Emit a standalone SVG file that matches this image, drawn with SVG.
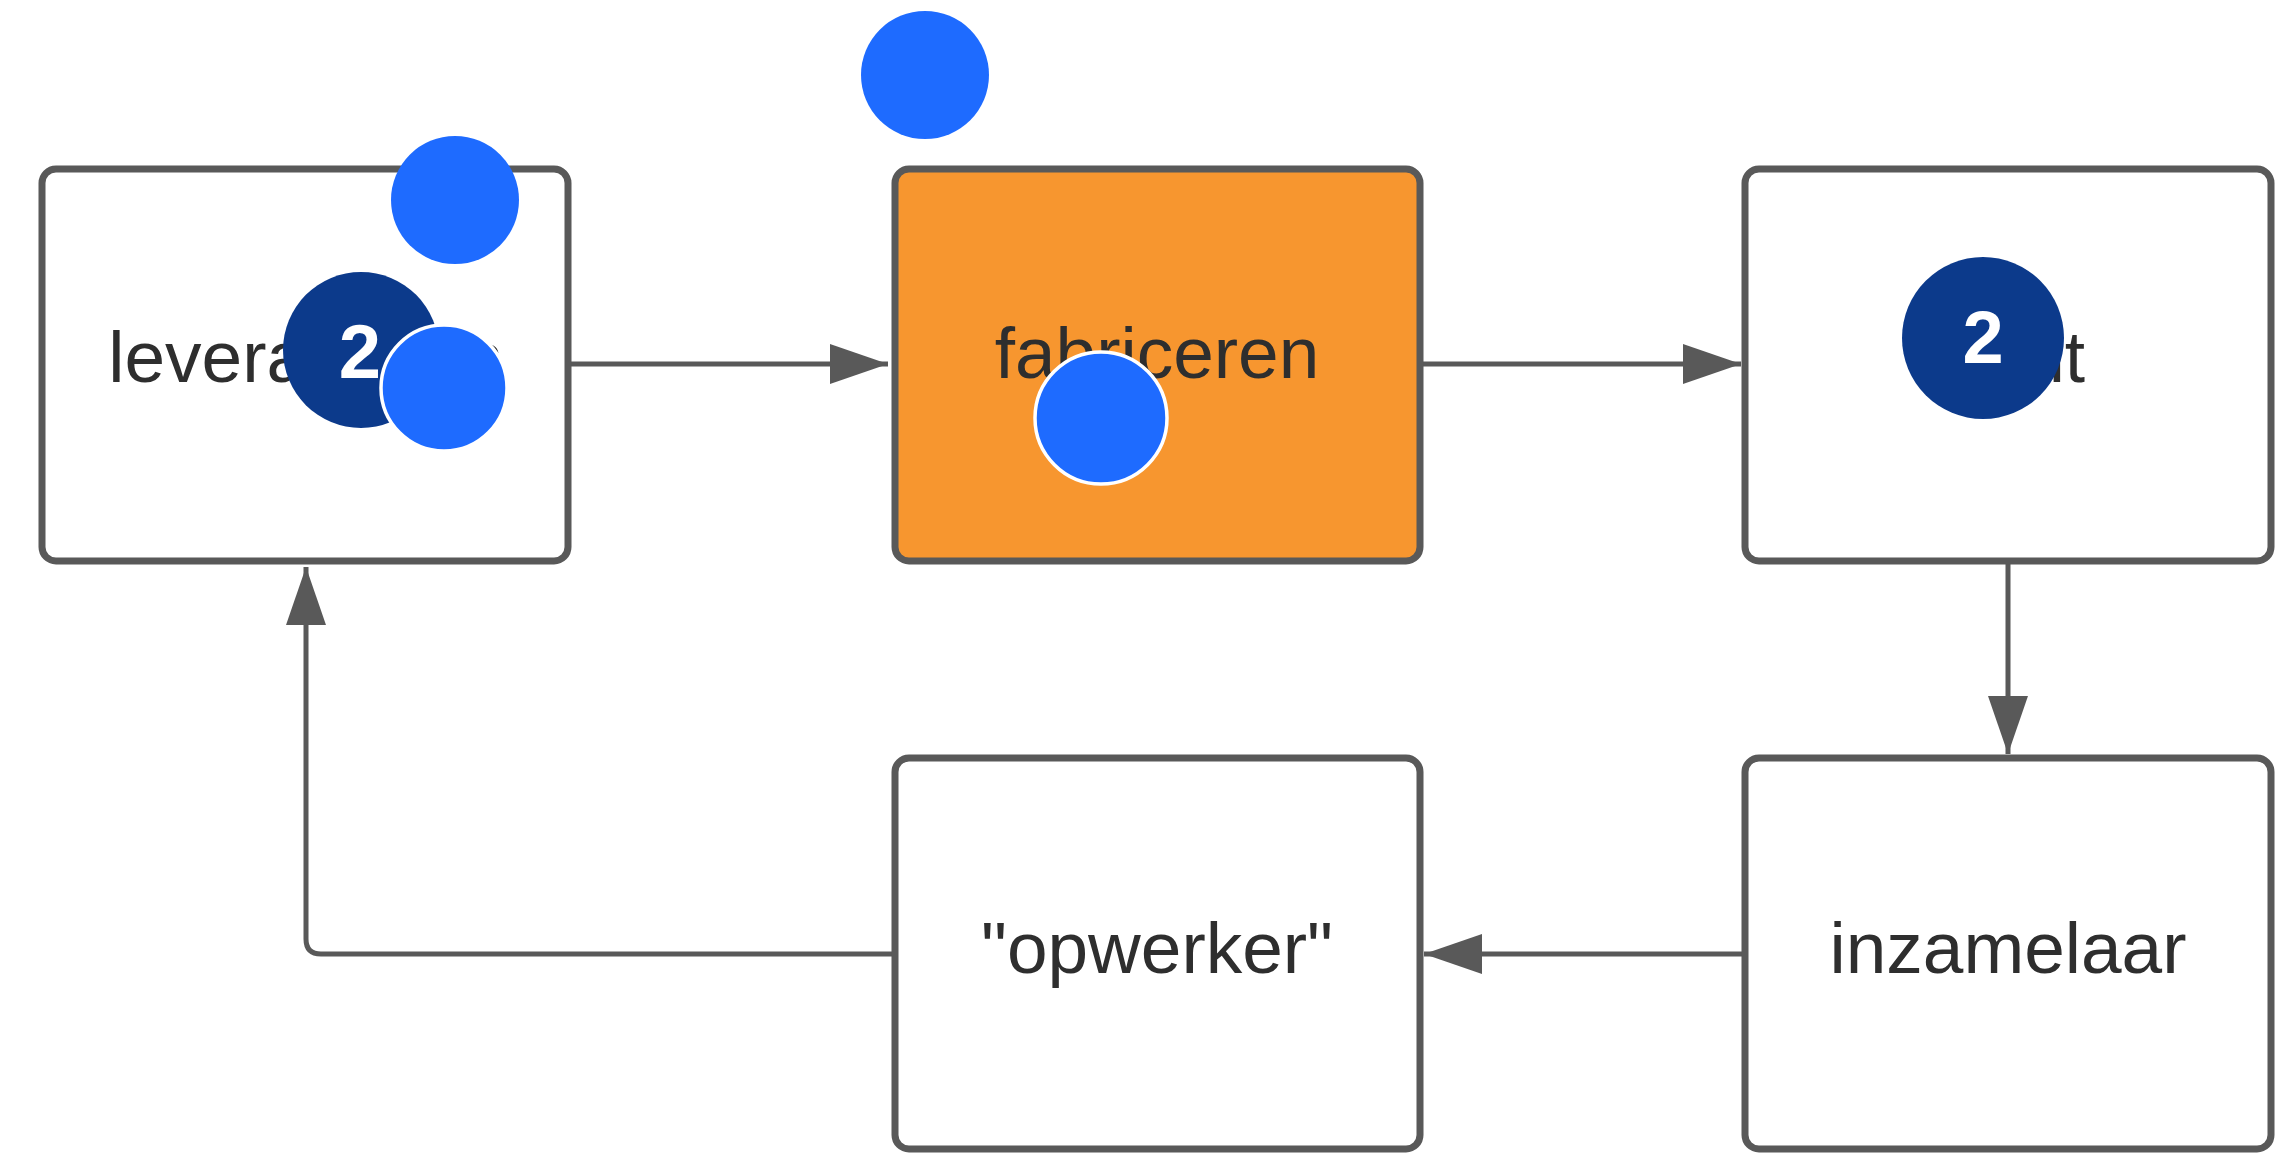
<svg xmlns="http://www.w3.org/2000/svg" width="2295" height="1153" viewBox="0 0 2295 1153">
  <style>
    .box { fill: #ffffff; stroke: #595959; stroke-width: 7; }
    .box.active { fill: #f7962f; }
    .label { font-family: "Liberation Sans", Arial, sans-serif; font-size: 73px; fill: #2e2e2e; text-anchor: middle; }
    .edge { fill: none; stroke: #595959; stroke-width: 5; }
    .dot { fill: #1e6bff; }
    .dot.ring { stroke: #ffffff; stroke-width: 3.5; }
    .badge { fill: #0c3a8b; }
    .badge-num { font-family: "Liberation Sans", Arial, sans-serif; font-weight: bold; fill: #ffffff; text-anchor: middle; }
  </style>
  <defs>
    <marker id="arrow" viewBox="0 0 58 40" refX="58" refY="20" markerWidth="58" markerHeight="40" orient="auto" markerUnits="userSpaceOnUse">
      <path d="M0,0 L58,20 L0,40 Z" fill="#595959"/>
    </marker>
  </defs>

  <rect width="2295" height="1153" fill="#ffffff"/>

  <!-- connectors -->
  <g id="connectors">
    <path class="edge" d="M568,364 L888,364" marker-end="url(#arrow)"/>
    <path class="edge" d="M1420,364 L1741,364" marker-end="url(#arrow)"/>
    <path class="edge" d="M2008,561 L2008,754" marker-end="url(#arrow)"/>
    <path class="edge" d="M1745,954 L1424,954" marker-end="url(#arrow)"/>
    <path class="edge" d="M894,954 L321,954 Q306,954 306,939 L306,567" marker-end="url(#arrow)"/>
  </g>

  <!-- nodes -->
  <g id="node-leveranciers">
    <rect class="box" x="42" y="169" width="526" height="392" rx="14"/>
    <text class="label" x="305" y="382">leveranciers</text>
  </g>
  <g id="node-fabriceren">
    <rect class="box active" x="895" y="169" width="525" height="392" rx="14"/>
    <text class="label" x="1157" y="378">fabriceren</text>
  </g>
  <g id="node-klant">
    <rect class="box" x="1745" y="169" width="526" height="392" rx="14"/>
    <text class="label" x="2008" y="382">klant</text>
  </g>
  <g id="node-opwerker">
    <rect class="box" x="895" y="758" width="525" height="391" rx="14"/>
    <text class="label" x="1157" y="973">"opwerker"</text>
  </g>
  <g id="node-inzamelaar">
    <rect class="box" x="1745" y="758" width="526" height="391" rx="14"/>
    <text class="label" x="2008" y="973">inzamelaar</text>
  </g>

  <!-- markers placed over the chart -->
  <g id="markers">
    <circle class="dot" cx="925" cy="75" r="64"/>
    <circle class="dot" cx="455" cy="200" r="64"/>
    <g id="badge-left">
      <circle class="badge" cx="361" cy="350" r="78"/>
      <text class="badge-num" x="360" y="378" style="font-size:76px">2</text>
    </g>
    <circle class="dot ring" cx="444" cy="388" r="63"/>
    <circle class="dot ring" cx="1101" cy="418" r="66"/>
    <g id="badge-right">
      <circle class="badge" cx="1983" cy="338" r="81"/>
      <text class="badge-num" x="1983" y="363" style="font-size:74px">2</text>
    </g>
  </g>
</svg>
